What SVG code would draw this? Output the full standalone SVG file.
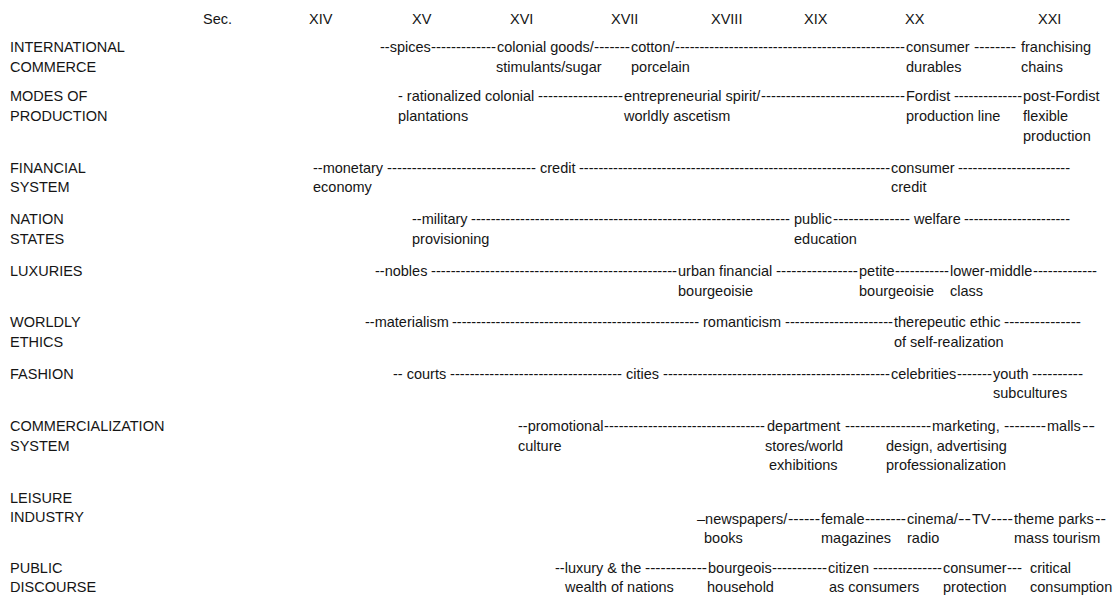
<svg xmlns="http://www.w3.org/2000/svg" width="1118" height="597" viewBox="0 0 1118 597">
<style>
text{font-family:"Liberation Sans",Arial,Helvetica,sans-serif;font-size:14.5px;fill:#151515}
</style>
<rect width="1118" height="597" fill="#fff"/>
<g id="header">
<text x="203" y="24">Sec.</text><text x="309" y="24">XIV</text><text x="412" y="24">XV</text><text x="510" y="24">XVI</text><text x="611" y="24">XVII</text><text x="711" y="24">XVIII</text><text x="804" y="24">XIX</text><text x="905" y="24">XX</text><text x="1038" y="24">XXI</text>
</g>
<g id="row-commerce">
<text x="10" y="52">INTERNATIONAL</text><text x="10" y="72">COMMERCE</text>
<text x="380" y="52">--spices</text>
<text class="d" x="431" y="52" textLength="65" lengthAdjust="spacingAndGlyphs">-------------</text>
<text x="497" y="52">colonial goods/</text>
<text class="d" x="594" y="52" textLength="36" lengthAdjust="spacingAndGlyphs">-------</text>
<text x="631" y="52">cotton/</text>
<text class="d" x="675" y="52" textLength="230" lengthAdjust="spacingAndGlyphs">-----------------------------------------------</text>
<text x="906" y="52">consumer</text>
<text class="d" x="974" y="52" textLength="42" lengthAdjust="spacingAndGlyphs">--------</text>
<text x="1021" y="52">franchising</text>
<text x="496" y="72">stimulants/sugar</text><text x="631" y="72">porcelain</text><text x="906" y="72">durables</text><text x="1021" y="72">chains</text>
</g>
<g id="row-production">
<text x="10" y="101">MODES OF</text><text x="10" y="121">PRODUCTION</text>
<text x="398" y="101">- rationalized colonial</text>
<text class="d" x="538" y="101" textLength="85" lengthAdjust="spacingAndGlyphs">-----------------</text>
<text x="624" y="101">entrepreneurial spirit/</text>
<text class="d" x="761" y="101" textLength="144" lengthAdjust="spacingAndGlyphs">-----------------------------</text>
<text x="906" y="101">Fordist</text>
<text class="d" x="954" y="101" textLength="68" lengthAdjust="spacingAndGlyphs">--------------</text>
<text x="1023" y="101">post-Fordist</text>
<text x="398" y="121">plantations</text><text x="624" y="121">worldly ascetism</text><text x="906" y="121">production line</text><text x="1023" y="121">flexible</text>
<text x="1023" y="141">production</text>
</g>
<g id="row-financial">
<text x="10" y="173">FINANCIAL</text><text x="10" y="192">SYSTEM</text>
<text x="313" y="173">--monetary</text>
<text class="d" x="387" y="173" textLength="149" lengthAdjust="spacingAndGlyphs">------------------------------</text>
<text x="540" y="173">credit</text>
<text class="d" x="579" y="173" textLength="311" lengthAdjust="spacingAndGlyphs">----------------------------------------------------------------</text>
<text x="891" y="173">consumer</text>
<text class="d" x="958" y="173" textLength="112" lengthAdjust="spacingAndGlyphs">-----------------------</text>
<text x="313" y="192">economy</text><text x="891" y="192">credit</text>
</g>
<g id="row-nation">
<text x="10" y="224">NATION</text><text x="10" y="244">STATES</text>
<text x="412" y="224">--military</text>
<text class="d" x="471" y="224" textLength="319" lengthAdjust="spacingAndGlyphs">-----------------------------------------------------------------</text>
<text x="794" y="224">public</text>
<text class="d" x="833" y="224" textLength="77" lengthAdjust="spacingAndGlyphs">---------------</text>
<text x="914" y="224">welfare</text>
<text class="d" x="964" y="224" textLength="106" lengthAdjust="spacingAndGlyphs">----------------------</text>
<text x="412" y="244">provisioning</text><text x="794" y="244">education</text>
</g>
<g id="row-luxuries">
<text x="10" y="276">LUXURIES</text>
<text x="375" y="276">--nobles</text>
<text class="d" x="431" y="276" textLength="246" lengthAdjust="spacingAndGlyphs">--------------------------------------------------</text>
<text x="678" y="276">urban financial</text>
<text class="d" x="776" y="276" textLength="82" lengthAdjust="spacingAndGlyphs">----------------</text>
<text x="859" y="276">petite</text>
<text class="d" x="895" y="276" textLength="54" lengthAdjust="spacingAndGlyphs">-----------</text>
<text x="950" y="276">lower-middle</text>
<text class="d" x="1033" y="276" textLength="64" lengthAdjust="spacingAndGlyphs">-------------</text>
<text x="678" y="296">bourgeoisie</text><text x="859" y="296">bourgeoisie</text><text x="950" y="296">class</text>
</g>
<g id="row-ethics">
<text x="10" y="327">WORLDLY</text><text x="10" y="347">ETHICS</text>
<text x="365" y="327">--materialism</text>
<text class="d" x="452" y="327" textLength="247" lengthAdjust="spacingAndGlyphs">---------------------------------------------------</text>
<text x="703" y="327">romanticism</text>
<text class="d" x="785" y="327" textLength="108" lengthAdjust="spacingAndGlyphs">----------------------</text>
<text x="894" y="327">therepeutic ethic</text>
<text class="d" x="1004" y="327" textLength="77" lengthAdjust="spacingAndGlyphs">---------------</text>
<text x="894" y="347">of self-realization</text>
</g>
<g id="row-fashion">
<text x="10" y="379">FASHION</text>
<text x="393" y="379">-- courts</text>
<text class="d" x="450" y="379" textLength="172" lengthAdjust="spacingAndGlyphs">-----------------------------------</text>
<text x="626" y="379">cities</text>
<text class="d" x="663" y="379" textLength="227" lengthAdjust="spacingAndGlyphs">----------------------------------------------</text>
<text x="891" y="379">celebrities</text>
<text class="d" x="957" y="379" textLength="35" lengthAdjust="spacingAndGlyphs">-------</text>
<text x="993" y="379">youth</text>
<text class="d" x="1032" y="379" textLength="51" lengthAdjust="spacingAndGlyphs">----------</text>
<text x="993" y="398">subcultures</text>
</g>
<g id="row-commercialization">
<text x="10" y="431">COMMERCIALIZATION</text><text x="10" y="451">SYSTEM</text>
<text x="518" y="431">--promotional</text>
<text class="d" x="604" y="431" textLength="161" lengthAdjust="spacingAndGlyphs">---------------------------------</text>
<text x="767" y="431">department</text>
<text class="d" x="845" y="431" textLength="86" lengthAdjust="spacingAndGlyphs">-----------------</text>
<text x="932" y="431">marketing,</text>
<text class="d" x="1004" y="431" textLength="42" lengthAdjust="spacingAndGlyphs">--------</text>
<text x="1047" y="431">malls</text>
<text class="d" x="1082" y="431" textLength="13" lengthAdjust="spacingAndGlyphs">--</text>
<text x="518" y="451">culture</text><text x="765" y="451">stores/world</text><text x="886" y="451">design, advertising</text>
<text x="769" y="470">exhibitions</text><text x="886" y="470">professionalization</text>
</g>
<g id="row-leisure">
<text x="10" y="503">LEISURE</text><text x="10" y="522">INDUSTRY</text>
<text x="697" y="524">–newspapers/</text>
<text class="d" x="788" y="524" textLength="32" lengthAdjust="spacingAndGlyphs">------</text>
<text x="821" y="524">female</text>
<text class="d" x="865" y="524" textLength="41" lengthAdjust="spacingAndGlyphs">--------</text>
<text x="907" y="524">cinema/</text>
<text class="d" x="958" y="524" textLength="13" lengthAdjust="spacingAndGlyphs">--</text>
<text x="972" y="524">TV</text>
<text class="d" x="991" y="524" textLength="22" lengthAdjust="spacingAndGlyphs">----</text>
<text x="1014" y="524">theme parks</text>
<text class="d" x="1095" y="524" textLength="11" lengthAdjust="spacingAndGlyphs">--</text>
<text x="704" y="543">books</text><text x="821" y="543">magazines</text><text x="907" y="543">radio</text><text x="1014" y="543">mass tourism</text>
</g>
<g id="row-discourse">
<text x="10" y="573">PUBLIC</text><text x="10" y="592">DISCOURSE</text>
<text x="555" y="573">--luxury &amp; the</text>
<text class="d" x="645" y="573" textLength="62" lengthAdjust="spacingAndGlyphs">------------</text>
<text x="708" y="573">bourgeois</text>
<text class="d" x="772" y="573" textLength="55" lengthAdjust="spacingAndGlyphs">-----------</text>
<text x="828" y="573">citizen</text>
<text class="d" x="873" y="573" textLength="69" lengthAdjust="spacingAndGlyphs">--------------</text>
<text x="943" y="573">consumer</text>
<text class="d" x="1007" y="573" textLength="15" lengthAdjust="spacingAndGlyphs">---</text>
<text x="1030" y="573">critical</text>
<text x="565" y="592">wealth of nations</text><text x="707" y="592">household</text><text x="829" y="592">as consumers</text><text x="943" y="592">protection</text><text x="1030" y="592">consumption</text>
</g>
</svg>
